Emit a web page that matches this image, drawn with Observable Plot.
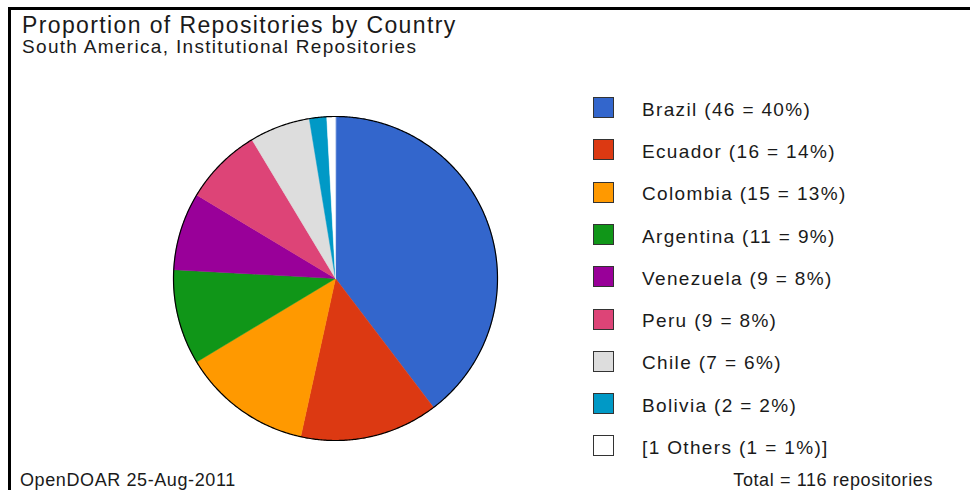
<!DOCTYPE html>
<html><head><meta charset="utf-8">
<script src="https://cdn.jsdelivr.net/npm/d3@7"></script>
<script src="https://cdn.jsdelivr.net/npm/@observablehq/plot@0.6"></script>
<style>
body{margin:0;background:#fff;font-family:"Liberation Sans",Arial,Helvetica,sans-serif;color:#1a1a1a;}
#wrap{position:relative;width:970px;height:490px;overflow:hidden;background:#fff;}
#wrap div{line-height:1;}
#frame{position:absolute;left:8px;top:7px;width:980px;height:500px;border-top:3px solid #000;border-left:3px solid #000;}
#title{position:absolute;left:22px;top:13.8px;font-size:23px;letter-spacing:1.38px;white-space:nowrap;}
#subtitle{position:absolute;left:22px;top:36.8px;font-size:19px;letter-spacing:1.32px;white-space:nowrap;}
#chart{position:absolute;}
.sw{position:absolute;left:593px;width:19px;height:19px;border:1.5px solid #333;box-sizing:content-box;}
.lt{position:absolute;left:642px;font-size:19px;letter-spacing:1.35px;white-space:nowrap;}
#foot{position:absolute;left:20px;top:471px;font-size:18px;letter-spacing:0.6px;white-space:nowrap;}
#total{position:absolute;right:37px;top:471px;font-size:18px;letter-spacing:0.6px;white-space:nowrap;}
</style>
</head><body>
<div id="wrap">
<div id="frame"></div>
<div id="title">Proportion of Repositories by Country</div>
<div id="subtitle">South America, Institutional Repositories</div>
<div id="chart"></div>
<div id="legend"></div>
<div id="foot">OpenDOAR 25-Aug-2011</div>
<div id="total">Total = 116 repositories</div>
</div>
<script>
const countries = ["Brazil","Ecuador","Colombia","Argentina","Venezuela","Peru","Chile","Bolivia","Others"];
const counts = [46,16,15,11,9,9,7,2,1];
const percents = [40,14,13,9,8,8,6,2,1];
const legendLabels = ["Brazil (46 = 40%)","Ecuador (16 = 14%)","Colombia (15 = 13%)","Argentina (11 = 9%)","Venezuela (9 = 8%)","Peru (9 = 8%)","Chile (7 = 6%)","Bolivia (2 = 2%)","[1 Others (1 = 1%)]"];
const colors = ["#3366CC","#DC3912","#FF9900","#109618","#990099","#DD4477","#DDDDDD","#0099C6","#FFFFFF"];

const data = countries.map((c,i)=>({name:c,value:counts[i]}));
const arcs = d3.pie().value(d=>d.value).sort(null)(data);
const pts = [];
arcs.forEach(a=>{
  pts.push({name:a.data.name,x:0,y:0});
  const n = Math.max(2, Math.ceil((a.endAngle-a.startAngle)/0.005));
  for(let k=0;k<=n;k++){
    const t = a.startAngle + (a.endAngle-a.startAngle)*k/n;
    pts.push({name:a.data.name,x:Math.sin(t),y:Math.cos(t)});
  }
});
const ring = d3.range(0,721).map(k=>({x:Math.sin(k/720*2*Math.PI),y:Math.cos(k/720*2*Math.PI)}));

const R = 162, M = 3, S = 2*R+2*M;
const plot = Plot.plot({
  width:S,height:S,margin:M,
  x:{domain:[-1,1],axis:null},
  y:{domain:[-1,1],axis:null},
  color:{domain:countries,range:colors},
  marks:[
    Plot.line(pts,{x:"x",y:"y",z:"name",fill:"name",stroke:"name",strokeWidth:0.5,curve:"linear-closed"}),
    Plot.line(ring,{x:"x",y:"y",stroke:"#000",strokeWidth:1.2,fill:"none"})
  ]
});
const chart = document.getElementById("chart");
chart.style.left = (334.5-S/2)+"px";
chart.style.top = (278-S/2)+"px";
chart.appendChild(plot);

const legend = document.getElementById("legend");
countries.forEach((c,i)=>{
  const sw = document.createElement("div");
  sw.className="sw"; sw.style.background=colors[i];
  sw.style.top = (97+i*42.3)+"px";
  const t = document.createElement("div");
  t.className="lt"; t.textContent=legendLabels[i];
  t.style.top = (99.6+i*42.3)+"px";
  legend.appendChild(sw); legend.appendChild(t);
});
</script>
</body></html>
